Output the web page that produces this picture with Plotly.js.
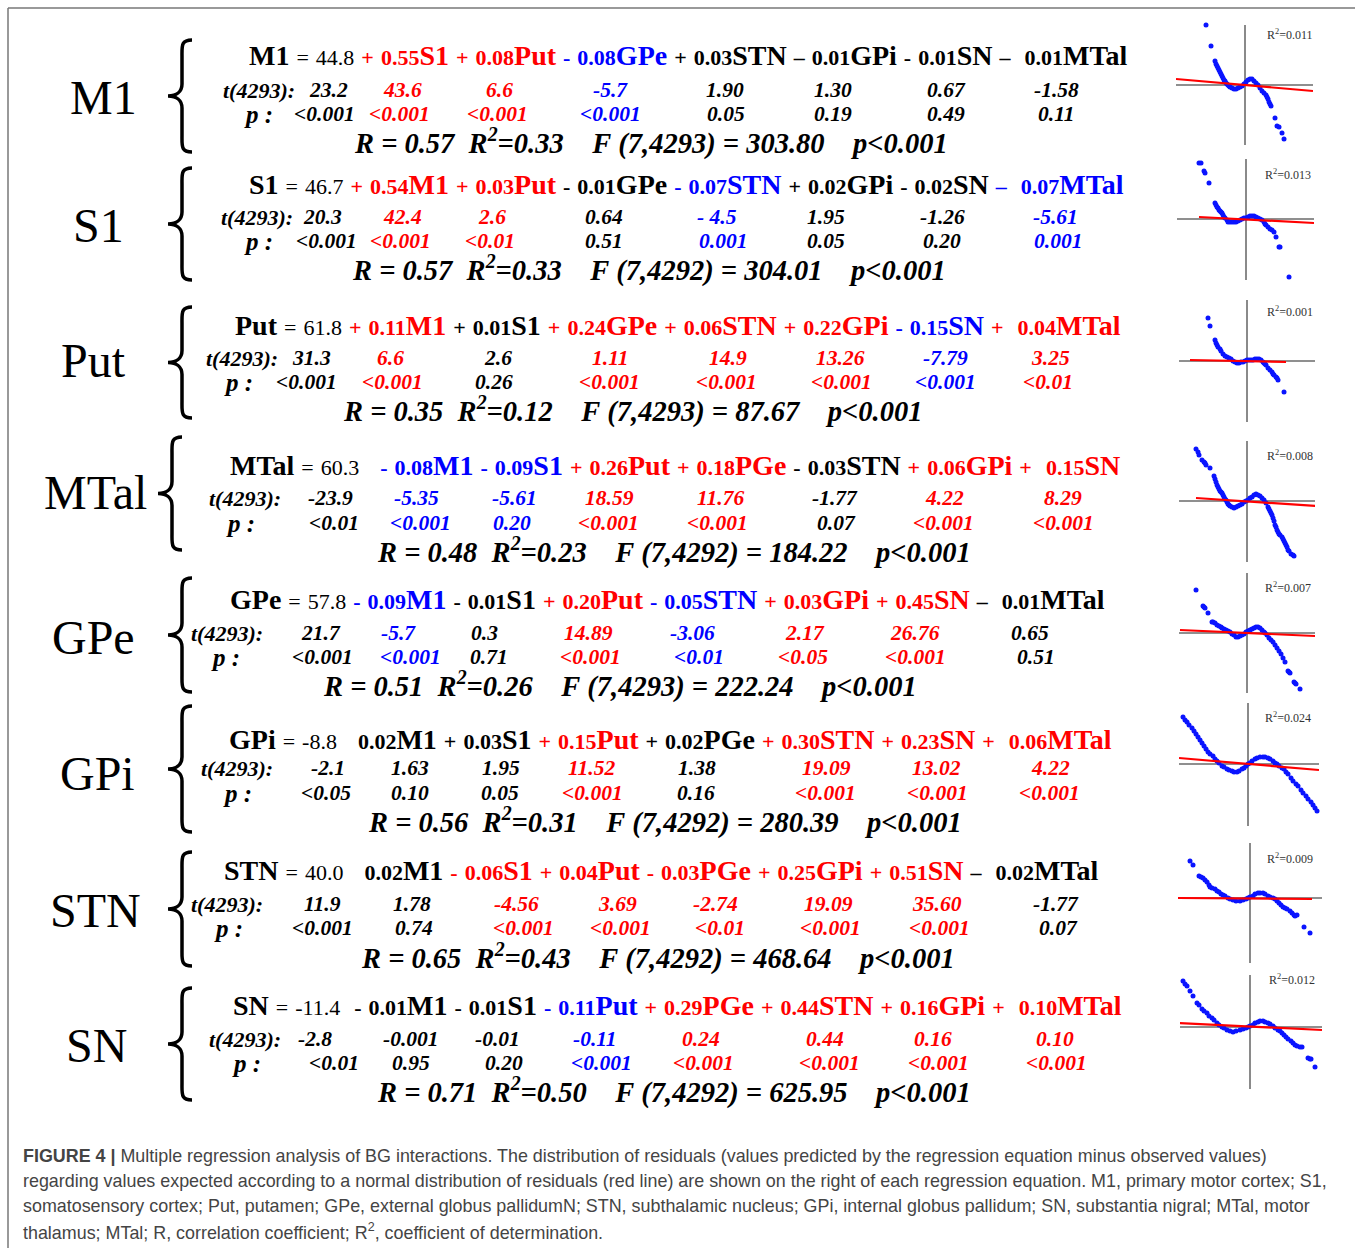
<!DOCTYPE html>
<html><head><meta charset="utf-8">
<script src="https://cdn.plot.ly/plotly-3.0.1.min.js"></script>
<style>html,body{margin:0;padding:0;background:#fff;}</style>
</head><body><div id="chart" style="width:1355px;height:1248px;"></div>
<script>
// ---------------- DATA ----------------
const blockNames = ['M1','S1','Put','MTal','GPe','GPi','STN','SN'];
const intercepts = ['44.8','46.7','61.8','60.3','57.8','-8.8','40.0','-11.4'];
const tDf = '4293';

const coefM1 = ['+ 0.55','+ 0.08','- 0.08','+ 0.03','– 0.01','- 0.01','– 0.01'];
const predM1 = ['S1','Put','GPe','STN','GPi','SN','MTal'];
const tM1 = ['23.2','43.6','6.6','-5.7','1.90','1.30','0.67','-1.58'];
const pM1 = ['<0.001','<0.001','<0.001','<0.001','0.05','0.19','0.49','0.11'];
const sigM1 = ['ns','pos','pos','neg','ns','ns','ns','ns'];

const coefS1 = ['+ 0.54','+ 0.03','- 0.01','- 0.07','+ 0.02','- 0.02','– 0.07'];
const predS1 = ['M1','Put','GPe','STN','GPi','SN','MTal'];
const tS1 = ['20.3','42.4','2.6','0.64','- 4.5','1.95','-1.26','-5.61'];
const pS1 = ['<0.001','<0.001','<0.01','0.51','0.001','0.05','0.20','0.001'];
const sigS1 = ['ns','pos','pos','ns','neg','ns','ns','neg'];

const coefPut = ['+ 0.11','+ 0.01','+ 0.24','+ 0.06','+ 0.22','- 0.15','+ 0.04'];
const predPut = ['M1','S1','GPe','STN','GPi','SN','MTal'];
const tPut = ['31.3','6.6','2.6','1.11','14.9','13.26','-7.79','3.25'];
const pPut = ['<0.001','<0.001','0.26','<0.001','<0.001','<0.001','<0.001','<0.01'];
const sigPut = ['ns','pos','ns','pos','pos','pos','neg','pos'];

const coefMTal = ['- 0.08','- 0.09','+ 0.26','+ 0.18','- 0.03','+ 0.06','+ 0.15'];
const predMTal = ['M1','S1','Put','PGe','STN','GPi','SN'];
const tMTal = ['-23.9','-5.35','-5.61','18.59','11.76','-1.77','4.22','8.29'];
const pMTal = ['<0.01','<0.001','0.20','<0.001','<0.001','0.07','<0.001','<0.001'];
const sigMTal = ['ns','neg','neg','pos','pos','ns','pos','pos'];

const coefGPe = ['- 0.09','- 0.01','+ 0.20','- 0.05','+ 0.03','+ 0.45','– 0.01'];
const predGPe = ['M1','S1','Put','STN','GPi','SN','MTal'];
const tGPe = ['21.7','-5.7','0.3','14.89','-3.06','2.17','26.76','0.65'];
const pGPe = ['<0.001','<0.001','0.71','<0.001','<0.01','<0.05','<0.001','0.51'];
const sigGPe = ['ns','neg','ns','pos','neg','pos','pos','ns'];

const coefGPi = ['0.02','+ 0.03','+ 0.15','+ 0.02','+ 0.30','+ 0.23','+ 0.06'];
const predGPi = ['M1','S1','Put','PGe','STN','SN','MTal'];
const tGPi = ['-2.1','1.63','1.95','11.52','1.38','19.09','13.02','4.22'];
const pGPi = ['<0.05','0.10','0.05','<0.001','0.16','<0.001','<0.001','<0.001'];
const sigGPi = ['ns','ns','ns','pos','ns','pos','pos','pos'];

const coefSTN = ['0.02','- 0.06','+ 0.04','- 0.03','+ 0.25','+ 0.51','– 0.02'];
const predSTN = ['M1','S1','Put','PGe','GPi','SN','MTal'];
const tSTN = ['11.9','1.78','-4.56','3.69','-2.74','19.09','35.60','-1.77'];
const pSTN = ['<0.001','0.74','<0.001','<0.001','<0.01','<0.001','<0.001','0.07'];
const sigSTN = ['ns','ns','pos','pos','pos','pos','pos','ns'];

const coefSN = ['- 0.01','- 0.01','- 0.11','+ 0.29','+ 0.44','+ 0.16','+ 0.10'];
const predSN = ['M1','S1','Put','PGe','STN','GPi','MTal'];
const tSN = ['-2.8','-0.001','-0.01','-0.11','0.24','0.44','0.16','0.10'];
const pSN = ['<0.01','0.95','0.20','<0.001','<0.001','<0.001','<0.001','<0.001'];
const sigSN = ['ns','ns','ns','neg','pos','pos','pos','pos'];

const Rvals  = ['0.57','0.57','0.35','0.48','0.51','0.56','0.65','0.71'];
const R2vals = ['0.33','0.33','0.12','0.23','0.26','0.31','0.43','0.50'];
const Fdf    = ['7,4293','7,4292','7,4293','7,4292','7,4293','7,4292','7,4292','7,4292'];
const Fvals  = ['303.80','304.01','87.67','184.22','222.24','280.39','468.64','625.95'];
const Fp     = ['<0.001','<0.001','<0.001','<0.001','<0.001','<0.001','<0.001','<0.001'];

const residR2 = ['0.011','0.013','0.001','0.008','0.007','0.024','0.009','0.012'];

// residual plots: observed vs expected
const res1X = [-39,-34,-30,-29,-28,-27,-26,-25,-24,-23,-22,-21,-20,-19,-18,-17,-16,-15,-13,-11,-9,-7,-5,-3,-1,1,3,5,7,9,11,13,15,17,19,21,22,23,24,25,26,30,32,34,37,39];
const res1Y = [60,39,24,21,19,17,15,13,11,9,7,5,4,2,1,0,-1,-2,-3,-4,-4,-3,-2,-1,1,3,5,6,6,4,2,0,-3,-6,-8,-10,-12,-14,-17,-19,-21,-33,-41,-42,-48,-54];
const norm1X = [-69,68], norm1Y = [6,-6];

const res2X = [-47,-45,-42,-41,-37,-31,-30,-29,-28,-27,-26,-25,-24,-23,-22,-21,-19,-18,-16,-14,-12,-10,-8,-6,-4,-2,0,2,4,6,8,10,12,14,16,18,19,20,22,24,26,28,30,33,34,43];
const res2Y = [56,56,48,46,36,16,14,12,11,9,8,7,6,4,2,1,-1,-3,-3,-3,-3,-3,-2,-1,0,1,1,2,3,3,3,2,1,0,-1,-3,-5,-6,-8,-10,-11,-13,-18,-28,-28,-58];
const norm2X = [-47,68], norm2Y = [2,-4];

const res3X = [-39,-37,-32,-31,-30,-29,-27,-26,-24,-22,-20,-18,-16,-14,-12,-10,-8,-6,-4,-2,0,2,4,6,8,10,12,14,16,17,18,19,21,23,25,26,27,29,30,31,37];
const res3Y = [43,35,21,18,16,14,12,10,7,5,4,3,2,0,-1,-2,-2,-1,-1,0,1,1,1,1,2,2,2,1,-1,-2,-3,-4,-7,-9,-11,-13,-14,-16,-17,-19,-31];
const norm3X = [-57,39], norm3Y = [1,-1];

const res4X = [-51,-49,-48,-45,-43,-42,-41,-37,-33,-32,-31,-30,-29,-28,-27,-26,-25,-24,-23,-22,-21,-20,-19,-18,-17,-15,-13,-11,-9,-7,-5,-3,-1,1,3,5,7,9,11,13,15,17,19,21,22,23,24,25,26,27,28,29,30,31,32,33,35,36,37,38,39,40,41,42,44,46,47];
const res4Y = [52,49,46,41,39,38,36,33,25,22,19,16,14,12,10,9,8,6,4,2,1,-1,-3,-4,-5,-6,-7,-6,-5,-4,-3,-1,0,1,3,4,6,7,6,5,3,1,-2,-6,-8,-10,-12,-14,-17,-20,-24,-26,-29,-31,-33,-34,-36,-38,-40,-42,-44,-46,-49,-50,-53,-54,-55];
const norm4X = [-51,69], norm4Y = [3,-5];

const res5X = [-51,-44,-43,-42,-39,-35,-34,-32,-30,-28,-26,-25,-23,-21,-19,-17,-15,-13,-11,-9,-7,-5,-3,-1,1,3,5,7,9,11,13,15,17,18,20,22,24,26,28,30,32,34,36,38,41,42,43,47,48,49,53];
const res5Y = [43,27,26,25,20,11,11,10,8,7,6,5,4,3,2,1,-1,-2,-4,-4,-3,-2,-1,1,2,3,4,5,6,6,5,3,1,0,-2,-5,-7,-9,-12,-15,-18,-21,-25,-29,-38,-39,-40,-49,-50,-51,-56];
const norm5X = [-67,68], norm5Y = [3,-3];

const res6X = [-65,-63,-61,-59,-56,-54,-52,-50,-48,-46,-44,-42,-40,-38,-35,-33,-31,-29,-26,-24,-21,-19,-16,-14,-11,-9,-6,-4,-2,0,2,4,7,9,12,15,17,20,22,25,27,29,31,34,36,38,40,43,45,48,50,53,55,58,60,63,65,67,69];
const res6Y = [47,44,42,39,36,33,30,27,24,21,18,15,12,10,8,5,3,1,-2,-3,-5,-6,-7,-8,-8,-7,-5,-4,-2,0,1,3,5,6,7,7,7,6,5,3,1,0,-2,-4,-5,-8,-10,-14,-17,-20,-22,-26,-29,-32,-35,-38,-41,-44,-47];
const norm6X = [-69,71], norm6Y = [6,-6];

const res7X = [-60,-57,-51,-49,-47,-45,-43,-41,-40,-38,-35,-33,-31,-29,-27,-25,-22,-20,-17,-14,-10,-7,-4,-2,0,3,5,8,10,13,15,18,20,23,25,27,29,31,33,35,37,40,42,44,45,47,54,60];
const res7Y = [37,33,22,21,20,18,16,13,11,10,9,7,6,4,3,2,0,-1,-2,-3,-3,-2,-1,0,1,2,4,5,5,5,4,2,1,0,-1,-3,-5,-7,-9,-10,-11,-13,-15,-17,-18,-17,-29,-35];
const norm7X = [-72,62], norm7Y = [0,-1];

const res8X = [-67,-65,-63,-60,-57,-53,-51,-48,-46,-43,-41,-38,-36,-33,-31,-28,-26,-23,-20,-17,-14,-10,-7,-4,-2,0,3,5,8,10,13,15,18,20,23,25,28,30,32,34,36,38,41,43,45,47,50,52,58,60,61,65];
const res8Y = [46,43,41,36,31,24,22,18,16,14,11,9,7,4,2,0,-1,-3,-4,-5,-4,-3,-2,-1,0,1,2,4,5,6,6,5,4,3,1,-1,-3,-4,-6,-8,-10,-12,-14,-16,-18,-19,-20,-20,-31,-32,-32,-40];
const norm8X = [-71,72], norm8Y = [4,-3];

const captionLines = [
  '<b>FIGURE 4 |</b> Multiple regression analysis of BG interactions. The distribution of residuals (values predicted by the regression equation minus observed values)',
  'regarding values expected according to a normal distribution of residuals (red line) are shown on the right of each regression equation. M1, primary motor cortex; S1,',
  'somatosensory cortex; Put, putamen; GPe, external globus pallidumN; STN, subthalamic nucleus; GPi, internal globus pallidum; SN, substantia nigral; MTal, motor',
  'thalamus; MTal; R, correlation coefficient; R<sup>2</sup>, coefficient of determination.'
];

// ---------------- LAYOUT (pixel positions) ----------------
const coefs = [coefM1,coefS1,coefPut,coefMTal,coefGPe,coefGPi,coefSTN,coefSN];
const preds = [predM1,predS1,predPut,predMTal,predGPe,predGPi,predSTN,predSN];
const tvals = [tM1,tS1,tPut,tMTal,tGPe,tGPi,tSTN,tSN];
const pvals = [pM1,pS1,pPut,pMTal,pGPe,pGPi,pSTN,pSN];
const sigs  = [sigM1,sigS1,sigPut,sigMTal,sigGPe,sigGPi,sigSTN,sigSN];
const resX = [res1X,res2X,res3X,res4X,res5X,res6X,res7X,res8X];
const resY = [res1Y,res2Y,res3Y,res4Y,res5Y,res6Y,res7Y,res8Y];
const normX = [norm1X,norm2X,norm3X,norm4X,norm5X,norm6X,norm7X,norm8X];
const normY = [norm1Y,norm2Y,norm3Y,norm4Y,norm5Y,norm6Y,norm7Y,norm8Y];

const W = 1355, H = 1248;
const rowEqY = [55,184,325,465,599,739,870,1005];
const rowTY  = [90,217,358,498,633,768,904,1039];
const rowPY  = [114,241,382,523,657,793,928,1063];
const rowRY  = [141,268,409,550,684,820,956,1090];
const labX = [103,98,93,95,93,97,95,96];
const labY = [97,225,360,492,637,773,910,1045];
const eqX  = [248,248,234,229,229,228,223,232];
const eqGapAfterIntercept = [0,0,0,2,0,2,2,1];
const tLabX = [222,220,205,208,190,200,190,208];
const pLabX = [258,258,238,240,225,237,228,246];
const RX = [353,351,342,376,322,367,360,376];
const tColX = [
  [328,402,499,610,725,833,946,1056],
  [322,402,492,604,717,826,942,1055],
  [311,390,498,610,728,840,945,1050],
  [330,416,514,609,720,835,944,1063],
  [321,398,484,588,692,805,915,1030],
  [328,410,501,591,697,826,936,1050],
  [322,412,516,617,715,828,937,1056],
  [315,411,497,595,701,825,933,1055]];
const pColX = [
  [324,399,497,610,726,833,946,1056],
  [326,400,490,604,723,826,942,1058],
  [306,392,494,609,726,841,945,1048],
  [334,420,512,608,717,836,943,1063],
  [322,410,489,590,699,803,915,1036],
  [326,410,500,592,696,825,937,1049],
  [322,414,523,620,720,830,939,1058],
  [334,411,504,601,703,829,938,1056]];
const braceX = [182,182,182,172,182,182,182,182];
const braceTop = [40,168,307,437,578,706,852,988];
const braceBot = [152,280,418,550,692,832,966,1100];
// residual panels: cross centre and extents [left,right,bottom,top] in px
const panC = [[1245,85],[1246,219],[1247,361],[1247,501],[1247,633],[1248,764],[1250,898],[1250,1027]];
const panExt = [[69,68,60,60],[69,68,61,60],[68,68,61,61],[68,68,61,60],[68,68,60,60],[69,71,62,61],[72,72,65,55],[70,72,62,52]];
const r2Pos = [[45,51],[42,45],[43,50],[43,45],[41,46],[40,47],[40,40],[42,48]];
const capY = [1156,1181,1206,1231];

const COL = {pos:'#ff0000', neg:'#0000ff', ns:'#000000'};
const SERIF = 'Liberation Serif, Times New Roman, serif';
const NB = '\u00A0';
const SP = `<span style="font-size:28px">${NB}</span>`;
const nb = s => s.replace(/ /g, NB);
const esc = s => s.replace(/</g,'&lt;');

// ---------------- BUILD ----------------
const traces = [];
const annotations = [];
const shapes = [];
const layout = {
  width: W, height: H, margin:{l:0,r:0,t:0,b:0},
  paper_bgcolor:'#ffffff', plot_bgcolor:'rgba(0,0,0,0)', showlegend:false,
  font:{family:SERIF, color:'#000', size:22},
  xaxis:{range:[0,W], domain:[0,1], visible:false, fixedrange:true},
  yaxis:{range:[H,0], domain:[0,1], visible:false, fixedrange:true}
};
traces.push({x:[0,W], y:[0,H], mode:'markers', marker:{opacity:0}, hoverinfo:'skip', xaxis:'x', yaxis:'y'});

function ann(o){
  const base = {xref:'x', yref:'y', showarrow:false, xanchor:'center', yanchor:'middle', borderpad:0};
  const a = Object.assign(base, o);
  a.font = Object.assign({family:SERIF}, o.font||{});
  annotations.push(a);
}

for (let i=0;i<8;i++){
  ann({x:labX[i], y:labY[i], text:blockNames[i], font:{size:48}});
  const x0=braceX[i], t=braceTop[i], b=braceBot[i], m=(t+b)/2;
  shapes.push({type:'path', xref:'x', yref:'y', line:{color:'#000', width:3.5},
    path:`M${x0+10},${t} C${x0-1},${t} ${x0},${t+6} ${x0},${t+16} L${x0},${m-12} C${x0},${m-4} ${x0-6},${m} ${x0-14},${m} C${x0-6},${m} ${x0},${m+4} ${x0},${m+12} L${x0},${b-16} C${x0},${b-6} ${x0-1},${b} ${x0+10},${b}`});
  // equation
  let s = `<span style="font-weight:bold;font-size:28px">${blockNames[i]}</span>${SP}=${SP}${intercepts[i]}`;
  for (let g=0; g<eqGapAfterIntercept[i]; g++) s += SP;
  for (let j=0;j<7;j++){
    const c = COL[sigs[i][j+1]];
    const parts = coefs[i][j].split(' ');
    let coefHtml = parts.length>1 ? parts[0] + SP + (j===6?SP:'') + parts[1] : parts[0];
    s += SP + `<span style="color:${c}"><span style="font-weight:bold;font-size:22px">${coefHtml}</span><span style="font-weight:bold;font-size:28px">${preds[i][j]}</span></span>`;
  }
  ann({x:eqX[i], y:rowEqY[i], xanchor:'left', text:s, font:{size:22}});
  // t row
  ann({x:tLabX[i], y:rowTY[i], xanchor:'left', text:`<b><i>t(${tDf}):</i></b>`, font:{size:22}});
  for (let j=0;j<8;j++){
    ann({x:tColX[i][j], y:rowTY[i], text:`<b><i>${nb(tvals[i][j])}</i></b>`, font:{size:21.5, color:COL[sigs[i][j]]}});
    ann({x:pColX[i][j], y:rowPY[i], text:`<b><i>${esc(pvals[i][j])}</i></b>`, font:{size:21.5, color:COL[sigs[i][j]]}});
  }
  ann({x:pLabX[i], y:rowPY[i], text:`<b><i>p${NB}:</i></b>`, font:{size:25}});
  // R line
  ann({x:RX[i], y:rowRY[i], xanchor:'left',
    text:`<b><i>R${NB}=${NB}${Rvals[i]}${NB}${NB}R<sup>2</sup>=${R2vals[i]}${NB}${NB}${NB}${NB}F${NB}(${Fdf[i]})${NB}=${NB}${Fvals[i]}${NB}${NB}${NB}${NB}p${esc(Fp[i])}</i></b>`,
    font:{size:28.5}});

  // residual panel
  const k=i+2, [cx,cy]=panC[i], [L,R,B,T]=panExt[i];
  layout['xaxis'+k] = {domain:[(cx-L)/W,(cx+R)/W], range:[-L,R], anchor:'y'+k, showgrid:false, showticklabels:false, ticks:'', showline:false, zeroline:false, fixedrange:true};
  layout['yaxis'+k] = {domain:[1-(cy+B)/H,1-(cy-T)/H], range:[-B,T], anchor:'x'+k, showgrid:false, showticklabels:false, ticks:'', showline:false, zeroline:false, fixedrange:true};
  shapes.push({type:'line', xref:'x'+k+' domain', yref:'y'+k, x0:0, x1:1, y0:0, y1:0, line:{color:'#6a6a6a', width:1.3}, layer:'below'});
  shapes.push({type:'line', xref:'x'+k, yref:'y'+k+' domain', x0:0, x1:0, y0:0, y1:1, line:{color:'#8a8a8a', width:2}, layer:'below'});
  traces.push({x:resX[i], y:resY[i], mode:'markers', marker:{color:'#0a14ff', size:5}, xaxis:'x'+k, yaxis:'y'+k, hoverinfo:'skip', cliponaxis:false});
  traces.push({x:normX[i], y:normY[i], mode:'lines', line:{color:'#ff0000', width:2.2}, xaxis:'x'+k, yaxis:'y'+k, hoverinfo:'skip'});
  annotations.push({xref:'x'+k, yref:'y'+k, x:r2Pos[i][0], y:r2Pos[i][1], showarrow:false, xanchor:'center', yanchor:'middle',
    text:`R<sup>2</sup>=${residR2[i]}`, font:{family:SERIF, size:12, color:'#333'}});
}
// caption
captionLines.forEach((ln,i)=>{
  ann({x:22, y:capY[i], xanchor:'left', text:ln,
    font:{family:'Liberation Sans, Arial, sans-serif', size:17.9, color:'#444'}});
});
// frame (top and left edges visible)
shapes.push({type:'line', xref:'x', yref:'y', x0:8, x1:W, y0:8, y1:8, line:{color:'#777', width:1.5}});
shapes.push({type:'line', xref:'x', yref:'y', x0:8, x1:8, y0:8, y1:H, line:{color:'#777', width:1.5}});

layout.annotations = annotations;
layout.shapes = shapes;
Plotly.newPlot('chart', traces, layout, {staticPlot:true, displayModeBar:false});
</script></body></html>
